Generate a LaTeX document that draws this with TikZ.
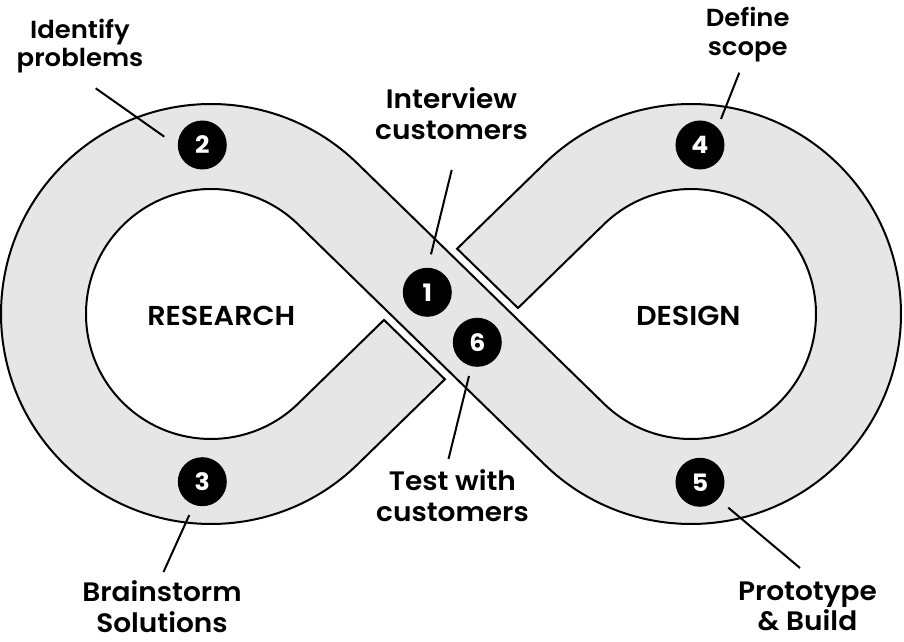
\documentclass[tikz,border=0pt]{standalone}
\usepackage{fontspec}
\setmainfont{Poppins}[UprightFont=* SemiBold, BoldFont=* Bold, FakeStretch=1.05]
\usetikzlibrary{calc}
\definecolor{bandgray}{HTML}{E6E6E6}
\begin{document}
\begin{tikzpicture}[x=0.75pt,y=0.75pt,
  band/.style={fill=bandgray,draw=black,line width=1.5pt,miter limit=20},
  num/.style={circle,fill=black,text=white,minimum size=36.75pt,inner sep=0pt,
    font=\fontsize{18}{18}\selectfont\bfseries},
  leader/.style={draw=black,line width=1.5pt},
  lblsmall/.style={align=center,inner sep=0pt,font=\fontsize{18.5}{21.3}\selectfont},
  lblbig/.style={align=center,inner sep=0pt,font=\fontsize{20}{23.25}\selectfont},
  phase/.style={inner sep=0pt,font=\fontsize{20.5}{20.5}\selectfont}]
\useasboundingbox (-451,-328) rectangle (453,314);
\pgfmathsetmacro{\al}{asin(167.5/240)}
\pgfmathsetmacro{\sinal}{sin(\al)}
\pgfmathsetmacro{\cosal}{cos(\al)}
\def\gapw{8.5}
\coordinate (L) at (-240,0);
\coordinate (R) at (240,0);
\coordinate (C1) at ({(85+\gapw)/(2*\sinal)},{\gapw/(2*\cosal)});
\coordinate (C2) at ({\gapw/(2*\sinal)},{(85+\gapw)/(2*\cosal)});
\coordinate (C3) at ({-(85+\gapw)/(2*\sinal)},{-\gapw/(2*\cosal)});
\coordinate (C4) at ({-\gapw/(2*\sinal)},{-(85+\gapw)/(2*\cosal)});
% infinity band
\path[band] ($(L)+(90-\al:210)$) -- ($(R)+(270-\al:125)$)
  arc[start angle=270-\al, end angle=450+\al, radius=125]
  -- (C1) -- (C2) -- ($(R)+(90+\al:210)$)
  arc[start angle=90+\al, end angle=-90-\al, radius=210]
  -- ($(L)+(90-\al:125)$)
  arc[start angle=90-\al, end angle=270+\al, radius=125]
  -- (C3) -- (C4) -- ($(L)+(\al-90:210)$)
  arc[start angle=\al-90, end angle=-270-\al, radius=210]
  -- cycle;
% phase names
\node[phase,anchor=base] (research) at (-229.7,-12) {RESEARCH};
\node[phase,anchor=base] (design) at (237.3,-12) {DESIGN};
% numbered steps
\node[num] (n1) at (-23.7,21.7) {1};
\node[num] (n6) at (26.3,-28.3) {6};
\node[num] (n2) at (-248.7,169) {2};
\node[num] (n3) at (-248.7,-167.7) {3};
\node[num] (n4) at (249,169) {4};
\node[num] (n5) at (249,-168.3) {5};
% labels (anchor base = baseline of the last line)
\node[lblsmall,anchor=base] (lab2) at (-371,247.3) {Identify\\problems};
\node[lblsmall,anchor=base] (lab4) at (296.7,258.9) {Define\\scope};
\node[lblbig,anchor=base] (lab1) at (0.5,174) {Interview\\customers};
\node[lblbig,anchor=base] (lab6) at (1.5,-207.7) {Test with\\customers};
\node[lblbig,anchor=base] (lab3) at (-289,-319) {Brainstorm\\Solutions};
\node[lblbig,anchor=base] (lab5) at (356.5,-317) {Prototype\\\& Build};
% leader lines
\coordinate (a2) at (-355.3,225.7); \coordinate (b2) at (-286.7,177.3);
\coordinate (a4) at (288.3,241.3);  \coordinate (b4) at (270,195);
\coordinate (a1) at (0.7,144);      \coordinate (b1) at (-20,59.7);
\coordinate (a6) at (18,-62);       \coordinate (b6) at (-2.5,-145);
\coordinate (a3) at (-261.7,-201);  \coordinate (b3) at (-287.5,-258);
\coordinate (a5) at (277.3,-193.7); \coordinate (b5) at (349,-254);
\draw[leader] (a2) -- (b2);
\draw[leader] (a4) -- (b4);
\draw[leader] (a1) -- (b1);
\draw[leader] (a6) -- (b6);
\draw[leader] (a3) -- (b3);
\draw[leader] (a5) -- (b5);
\end{tikzpicture}
\end{document}
